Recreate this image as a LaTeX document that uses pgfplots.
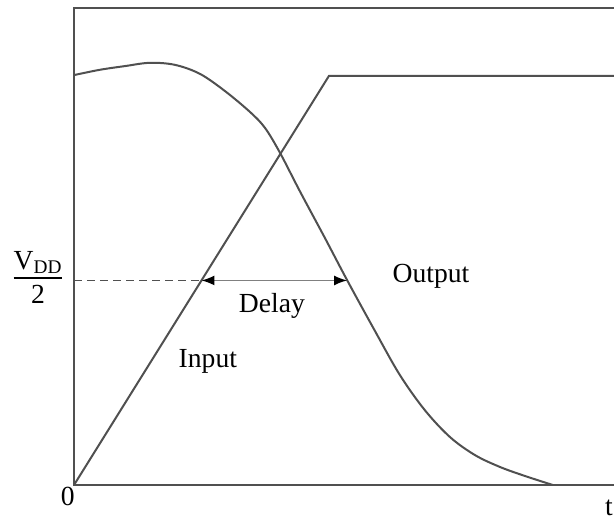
\documentclass[border=0pt]{standalone}
\usepackage{pgfplots}
\pgfplotsset{compat=1.18}
\usepackage{fontspec}
\setmainfont{Liberation Serif}
\usetikzlibrary{arrows.meta}
\definecolor{curve}{HTML}{505050}
\newcommand\lbl{\fontsize{13.8}{16}\selectfont}

\begin{document}
\begin{tikzpicture}
\begin{axis}[at={(0,0)}, anchor=south west, scale only axis, width=283pt, height=238.5pt,
  xmin=0, xmax=2.22, ymin=0, ymax=1.166, xtick=\empty, ytick=\empty,
  axis line style={curve, line width=0.9pt}, clip=false]
% input ramp
\addplot[curve, line width=1pt] coordinates {(0,0) (1.0,1.0) (2.3,1.0)};
% output
\addplot[curve, line width=1pt, smooth, tension=0.55] coordinates {
  (0,1.002) (0.102,1.015) (0.200,1.024) (0.298,1.032) (0.396,1.027) (0.494,1.005)
  (0.592,0.963) (0.690,0.912) (0.749,0.873) (0.808,0.812) (0.886,0.718) (0.984,0.604)
  (1.071,0.501) (1.180,0.377) (1.278,0.269) (1.376,0.183) (1.475,0.117) (1.573,0.073)
  (1.671,0.044) (1.769,0.022) (1.878,0)};
% V_DD/2 level and delay
\addplot[curve, line width=0.6pt, dash pattern=on 4pt off 2.5pt] coordinates {(0,0.5) (0.5,0.5)};
\addplot[gray, line width=0.7pt, {Latex[black,length=6.5pt,width=5pt]}-{Latex[black,length=6.5pt,width=5pt]}] coordinates {(0.5,0.5) (1.071,0.5)};
\node[font=\lbl] at (axis cs:0.776,0.438) {Delay};
\node[font=\lbl] at (axis cs:1.40,0.511) {Output};
\node[font=\lbl] at (axis cs:0.525,0.301) {Input};
\node[font=\lbl] at (axis cs:-0.024,-0.029) {0};
\node[font=\lbl] at (axis cs:2.098,-0.056) {t};
\node[font=\lbl] at (axis cs:-0.141,0.501) {\begin{tabular}{@{}c@{}}V\textsubscript{DD}\\[-1pt]\noalign{\hrule height 0.9pt}\noalign{\vskip1pt}2\end{tabular}};
\end{axis}
\pgfresetboundingbox
\path[use as bounding box] (-37pt,-17pt) rectangle (270pt,242.5pt);
\end{tikzpicture}
\end{document}
